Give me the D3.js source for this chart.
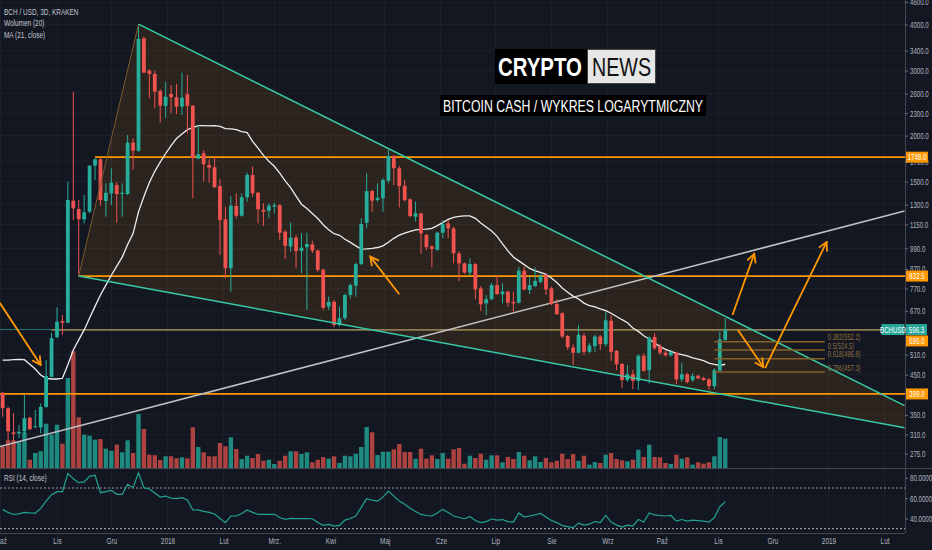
<!DOCTYPE html>
<html>
<head>
<meta charset="utf-8">
<script src="https://cdn.jsdelivr.net/npm/d3@7"></script>
<style>
  body { margin: 0; background: #131722; }
  svg { display: block; }
</style>
</head>
<body>
<div id="chart"></div>
<script>
// BCH/USD 3D bars: [open, high, low, close]
const firstBar = "2017-10-02";
const barDays = 3;
const ohlc = [
  [402,404,346,365],[365,368,296,316],[314,354,296,311],[312,329,303,315],[316,396,309,343],
  [344,346,319,320],[325,361,323,326],[324,376,312,368],[368,493,366,446],[444,584,442,565],
  [569,685,565,626],[629,653,577,622],[622,1500,620,1338],[1332,2630,1181,1270],[1265,1338,833,1186],
  [1186,1380,1157,1239],[1244,1665,1231,1658],[1658,1737,1516,1725],[1725,1737,1291,1338],[1330,1485,1206,1400],
  [1395,1631,1297,1491],[1469,1500,1161,1389],[1389,1485,1206,1400],[1389,2007,1380,1914],[1914,1966,1614,1820],
  [1820,4010,1809,3654],[3671,3708,2951,2962],[2999,3025,2524,2938],[2938,2999,2372,2630],[2642,2670,2168,2411],
  [2406,2799,2232,2549],[2593,2742,2303,2540],[2540,2759,2288,2396],[2396,2962,2274,2534],[2588,2920,2029,2406],
  [2411,2420,1352,1737],[1732,2137,1725,1780],[1791,1828,1500,1673],[1665,1725,1491,1638],[1642,1754,1440,1449],
  [1460,1523,950,1181],[1186,1284,821,874],[874,1372,755,1291],[1289,1395,1194,1213],[1213,1395,1206,1361],
  [1361,1587,1324,1564],[1564,1648,1366,1395],[1400,1409,1157,1263],[1259,1311,1138,1244],[1252,1311,1194,1291],
  [1284,1316,1231,1295],[1295,1305,1043,1091],[1098,1110,925,1005],[1001,1164,970,1058],[1058,1076,874,974],
  [974,1089,847,994],[997,1091,674,1017],[1015,1038,960,976],[976,984,856,865],[865,874,674,683],
  [688,732,674,709],[709,717,605,614],[614,688,607,640],[640,747,633,740],[740,796,724,787],
  [784,905,732,897],[897,1194,892,1152],[1161,1581,1121,1415],[1415,1424,1244,1332],[1338,1485,1324,1357],
  [1352,1532,1244,1516],[1509,1828,1485,1761],[1761,1772,1469,1631],[1631,1655,1278,1460],[1462,1516,1324,1338],
  [1344,1352,1201,1211],[1206,1324,1169,1231],[1231,1236,956,1087],[1076,1083,980,997],[1001,1011,879,986],
  [980,1098,976,1091],[1091,1181,1054,1152],[1157,1181,1054,1121],[1121,1133,901,960],[958,970,807,901],
  [901,905,844,851],[851,930,833,897],[897,905,720,766],[771,782,670,698],[702,740,653,721],
  [720,798,717,787],[787,833,740,744],[743,796,702,755],[755,760,688,705],[709,755,667,702],
  [705,883,702,861],[861,883,760,766],[763,833,744,787],[782,879,776,808],[803,844,796,833],
  [838,844,740,766],[771,779,695,699],[699,720,653,657],[660,664,565,571],[573,577,525,534],
  [533,544,478,516],[516,614,514,577],[574,583,509,519],[519,548,514,540],[538,577,519,571],
  [571,577,525,544],[544,667,536,632],[630,653,491,519],[522,525,463,480],[481,485,413,435],
  [435,478,430,451],[451,463,411,433],[433,512,409,506],[506,514,458,461],[463,571,426,567],
  [569,583,525,531],[536,545,509,516],[516,523,504,508],[508,525,504,518],[516,519,424,437],
  [437,485,430,451],[451,456,426,430],[435,454,430,446],[447,449,437,440],[441,444,433,435],
  [437,440,409,419],[419,468,411,463],[461,589,458,561],[559,640,556,596.3]
];

// volume per bar (thousand BCH)
const volumes = [
  216,276,276,257,357,83,150,167,443,333,
  433,243,900,1167,507,333,323,283,290,193,
  173,233,157,277,150,540,390,133,128,80,
  117,117,97,107,97,407,210,157,117,117,
  250,217,307,190,90,123,100,140,73,83,
  40,73,123,167,167,140,157,57,83,110,
  93,117,50,123,117,143,210,410,357,130,
  163,163,187,240,160,160,93,193,93,127,
  90,150,93,187,200,43,123,100,143,83,
  127,127,57,110,90,160,123,77,117,60,
  100,57,73,143,90,140,73,123,33,60,
  50,133,150,90,77,67,83,183,110,233,
  110,107,50,40,133,93,107,33,57,43,
  57,117,310,293
];

// RSI(14, close) per bar
const rsiValues = [
  49,46,44,44.5,46,45.5,45.3,50,57,63.5,
  66.4,66.4,84.4,79,75.2,76,81.5,82.5,65.4,66.5,
  67.7,63.8,63.8,73.6,70.3,85,70.3,69,65,61.1,
  62.1,60,59.5,60.5,58.2,48.4,48.5,47,46,44.5,
  40,35.9,42.5,42.5,45,48.4,46,44,44,44,
  44.1,41,39.2,40.2,40,40,40,39.8,36,33.3,
  34.3,32.6,33.3,38.5,40,42.5,51,59.5,58,57.2,
  61,67,62,57.2,54,50,47,44,43,42.5,
  45.5,49,46,42.5,41,39.8,42,38,36,37,
  39.5,38.5,39,37,36.5,45.5,41.5,42.5,43.5,45,
  41.5,38,36,33,32,31,35.5,33.5,34.5,37,
  36,43,36.5,33.5,31.5,33.5,32.5,39,36.5,45.5,
  43.5,43,42.5,43,37.5,39,37.5,38.5,38,37.5,
  36.5,41,51.5,56.5
];

// MA(21) for the first bars, whose history is off the left edge
const maLength = 21;
const maHead = [493,493,494,495,494,480,466,449,440,438,438,440,479,525,559,595,641,689,740,787];

const priceTicks = [4600,4000,3400,3000,2600,2300,2000,1700,1500,1300,1150,990,870,770,670,510,450,350,310,275];
const rsiTicks = [80, 60, 40];
const rsiBands = [70, 30];
const monthTicks = ["2017-10-01","2017-11-01","2017-12-01","2018-01-01","2018-02-01","2018-03-01","2018-04-01",
  "2018-05-01","2018-06-01","2018-07-01","2018-08-01","2018-09-01","2018-10-01","2018-11-01","2018-12-01",
  "2019-01-01","2019-02-01"];
const monthLabels = ["Paź","Lis","Gru","2018","Lut","Mrz.","Kwi","Maj","Cze","Lip","Sie","Wrz","Paź","Lis","Gru","2019","Lut"];

// drawings
const levelPrices = [1748, 832.5, 595, 399];
const levelStarts = ["2017-11-22", "2017-11-13", "2017-10-29", "2017-09-20"];
const fibRatios = ["0.382", "0.5", "0.618", "0.786"];
const fibPrices = [552.2, 524.5, 496.8, 457.3];
const fibSpan = ["2018-10-30", "2018-12-30"];
const wedgeUpper = [["2017-12-16", 4010], ["2019-02-12", 371]];
const wedgeLower = [["2017-11-13", 833], ["2019-02-12", 323]];
const supportLine = [["2017-09-30", 287], ["2019-02-12", 1249]];
const arrows = [
  [["2017-09-30", 709], ["2017-10-23", 478]],
  [["2018-05-09", 743], ["2018-04-23", 940]],
  [["2018-11-09", 653], ["2018-11-21", 956]],
  [["2018-11-12", 595], ["2018-11-26", 472]],
  [["2018-11-27", 469], ["2018-12-31", 1030]]
];
const lastPrice = 596.3;

// ---- layout
const W = 932, H = 550;
const plotRight = 905, mainBottom = 468, rsiTop = 469, rsiBottom = 533;
const upColor = "#27ad9b", downColor = "#ef5350";
const volUp = "#1f8a80", volDown = "#ac4340";
const orange = "#ff9800", teal = "#38c9a5";
const squeeze = 0.68; // the chart's text is drawn narrow

const parse = d3.utcParse("%Y-%m-%d");
const dates = ohlc.map((d, i) => d3.utcDay.offset(parse(firstBar), i * barDays));
const closes = ohlc.map(d => d[3]);
const ma = closes.map((c, i) => i < maLength - 1 ? maHead[i] : d3.mean(closes.slice(i - maLength + 1, i + 1)));

const x = d3.scaleUtc().domain([parse("2017-11-01"), parse("2018-11-01")]).range([57, 718]);
const y = d3.scaleLog().domain([275, 4000]).range([453.6, 24.5]);
const yVol = d3.scaleLinear().domain([0, 1200]).range([mainBottom, mainBottom - 120]);
const yRsi = d3.scaleLinear().domain([30, 70]).range([528.7, 488]);
const pt = d => [x(parse(d[0])), y(d[1])];

const svg = d3.select("#chart").append("svg")
  .attr("width", W).attr("height", H)
  .attr("font-family", "'Liberation Sans', Arial, sans-serif")
  .style("background", "#131722");

const defs = svg.append("defs");
defs.append("clipPath").attr("id", "clipMain")
  .append("rect").attr("width", plotRight).attr("height", mainBottom);
defs.append("clipPath").attr("id", "clipRsi")
  .append("rect").attr("y", rsiTop).attr("width", plotRight).attr("height", rsiBottom - rsiTop);
defs.append("marker").attr("id", "head")
  .attr("viewBox", "0 0 12 12").attr("refX", 10.5).attr("refY", 6)
  .attr("markerUnits", "userSpaceOnUse").attr("markerWidth", 12).attr("markerHeight", 12)
  .attr("orient", "auto")
  .append("path").attr("d", "M2,1.5L10.5,6L2,10.5")
  .attr("fill", "none").attr("stroke", orange).attr("stroke-width", 1.8);

// grid
const grid = svg.append("g").attr("stroke", "#1b1f2b").attr("shape-rendering", "crispEdges");
grid.selectAll("line.v").data(monthTicks).join("line").attr("class", "v")
  .attr("x1", d => x(parse(d))).attr("x2", d => x(parse(d)))
  .attr("y1", 0).attr("y2", rsiBottom);
grid.selectAll("line.h").data(priceTicks).join("line").attr("class", "h")
  .attr("x1", 0).attr("x2", plotRight)
  .attr("y1", d => y(d)).attr("y2", d => y(d));

const main = svg.append("g").attr("clip-path", "url(#clipMain)");

// wedge area
main.append("path")
  .attr("d", d3.line()([pt(wedgeLower[0]), pt(wedgeUpper[0]), pt(wedgeUpper[1]), pt(wedgeLower[1])]) + "Z")
  .attr("fill", "rgba(255,152,0,0.1)");

// volume
main.append("g").selectAll("rect").data(volumes).join("rect")
  .attr("x", (d, i) => x(dates[i]) - 2.2)
  .attr("width", 4.4)
  .attr("y", d => yVol(d))
  .attr("height", d => mainBottom - yVol(d))
  .attr("fill", (d, i) => ohlc[i][3] >= ohlc[i][0] ? volUp : volDown);

// horizontal levels + current price line
main.append("line")
  .attr("x1", 0).attr("x2", plotRight).attr("y1", y(lastPrice)).attr("y2", y(lastPrice))
  .attr("stroke", "#26a69a").attr("stroke-width", 1).attr("opacity", 0.7);
levelPrices.forEach((p, i) => {
  main.append("line")
    .attr("x1", x(parse(levelStarts[i]))).attr("x2", plotRight)
    .attr("y1", y(p)).attr("y2", y(p))
    .attr("stroke", i === 2 ? "#8f7d4f" : orange)
    .attr("stroke-width", 1.7);
});

// support diagonal
main.append("line")
  .attr("x1", pt(supportLine[0])[0]).attr("y1", pt(supportLine[0])[1])
  .attr("x2", pt(supportLine[1])[0]).attr("y2", pt(supportLine[1])[1])
  .attr("stroke", "#bfc0c2").attr("stroke-width", 1.6);

// MA(21)
main.append("path").datum(ma)
  .attr("d", d3.line().x((d, i) => x(dates[i])).y(d => y(d)))
  .attr("fill", "none").attr("stroke", "#ededed").attr("stroke-width", 1.3);

// candles
const candle = main.append("g").selectAll("g").data(ohlc).join("g")
  .attr("transform", (d, i) => `translate(${x(dates[i])},0)`);
candle.append("line")
  .attr("y1", d => y(d[1])).attr("y2", d => y(d[2]))
  .attr("stroke", d => d[3] >= d[0] ? upColor : downColor).attr("stroke-width", 1);
candle.append("rect")
  .attr("x", -1.9).attr("width", 3.8)
  .attr("y", d => y(Math.max(d[0], d[3])))
  .attr("height", d => Math.max(1, Math.abs(y(d[0]) - y(d[3]))))
  .attr("fill", d => d[3] >= d[0] ? upColor : downColor);

// wedge borders
main.append("line")
  .attr("x1", pt(wedgeLower[0])[0]).attr("y1", pt(wedgeLower[0])[1])
  .attr("x2", pt(wedgeUpper[0])[0]).attr("y2", pt(wedgeUpper[0])[1])
  .attr("stroke", "#7a5a2c").attr("stroke-width", 1);
[wedgeUpper, wedgeLower].forEach(l => {
  main.append("line")
    .attr("x1", pt(l[0])[0]).attr("y1", pt(l[0])[1])
    .attr("x2", pt(l[1])[0]).attr("y2", pt(l[1])[1])
    .attr("stroke", teal).attr("stroke-width", 1.5);
});

// fibonacci levels
const fx0 = x(parse(fibSpan[0])), fx1 = x(parse(fibSpan[1]));
fibPrices.forEach((p, i) => {
  main.append("line").attr("x1", fx0).attr("x2", fx1).attr("y1", y(p)).attr("y2", y(p))
    .attr("stroke", "#86622a").attr("stroke-width", 1.5);
  main.append("text").attr("class", "cond")
    .attr("x", fx1 + 3).attr("y", y(p) - 1.5)
    .attr("font-size", 8.5).attr("fill", "#8c6d3f")
    .text(`${fibRatios[i]}(${p.toFixed(1)})`);
});

// arrows
arrows.forEach(a => {
  main.append("line")
    .attr("x1", pt(a[0])[0]).attr("y1", pt(a[0])[1])
    .attr("x2", pt(a[1])[0]).attr("y2", pt(a[1])[1])
    .attr("stroke", orange).attr("stroke-width", 1.8)
    .attr("marker-end", "url(#head)");
});

// RSI pane
const rsiG = svg.append("g").attr("clip-path", "url(#clipRsi)");
rsiBands.forEach(v => {
  rsiG.append("line").attr("x1", 0).attr("x2", plotRight).attr("y1", yRsi(v)).attr("y2", yRsi(v))
    .attr("stroke", "#9598a1").attr("stroke-width", 1.2).attr("stroke-dasharray", "2,2");
});
rsiG.append("path").datum(rsiValues)
  .attr("d", d3.line().x((d, i) => x(dates[i])).y(d => yRsi(d)))
  .attr("fill", "none").attr("stroke", "#22a392").attr("stroke-width", 1.2);

// separators
const sep = svg.append("g").attr("stroke", "#434651").attr("shape-rendering", "crispEdges");
sep.append("line").attr("x1", 0).attr("x2", W).attr("y1", mainBottom + 0.5).attr("y2", mainBottom + 0.5).attr("stroke-width", 1.5);
sep.append("line").attr("x1", 0).attr("x2", plotRight).attr("y1", rsiBottom + 0.5).attr("y2", rsiBottom + 0.5);
sep.append("line").attr("x1", plotRight + 0.5).attr("x2", plotRight + 0.5).attr("y1", 0).attr("y2", rsiBottom);

// price axis
const yAxis = svg.append("g").attr("transform", `translate(${plotRight},0)`)
  .call(d3.axisRight(y).tickValues(priceTicks).tickFormat(d3.format(".1f")).tickSize(3).tickPadding(2));
yAxis.select(".domain").remove();
yAxis.selectAll("line").attr("stroke", "#6a6d78");
yAxis.selectAll("text").attr("class", "cond").attr("fill", "#b2b5be").attr("font-size", 9);

const rAxis = svg.append("g").attr("transform", `translate(${plotRight},0)`)
  .call(d3.axisRight(yRsi).tickValues(rsiTicks).tickFormat(d3.format(".4f")).tickSize(3).tickPadding(2));
rAxis.select(".domain").remove();
rAxis.selectAll("line").attr("stroke", "#6a6d78");
rAxis.selectAll("text").attr("class", "cond").attr("fill", "#b2b5be").attr("font-size", 9);

// time axis
const xAxis = svg.append("g").attr("transform", `translate(0,${rsiBottom})`)
  .call(d3.axisBottom(x).tickValues(monthTicks.map(parse)).tickFormat((d, i) => monthLabels[i]).tickSize(0).tickPadding(4));
xAxis.select(".domain").remove();
xAxis.selectAll("text").attr("class", "cond").attr("fill", "#b2b5be").attr("font-size", 9.5);

// axis boxes
function axisBox(left, cy, width, fill, label) {
  const g = svg.append("g").attr("transform", `translate(${left},${cy})`);
  g.append("rect").attr("y", -5.5).attr("width", width).attr("height", 11).attr("fill", fill);
  g.append("text").attr("class", "cond").attr("x", width / 2).attr("dy", "0.35em")
    .attr("text-anchor", "middle").attr("font-size", 9).attr("fill", "#fff").text(label);
}
levelPrices.forEach((p, i) => {
  if (i !== 2) axisBox(plotRight + 1, y(p), 22, orange, p.toFixed(1));
});
axisBox(plotRight + 1, y(levelPrices[2]) + 11, 22, orange, levelPrices[2].toFixed(1));
axisBox(plotRight + 1, y(lastPrice), 21, "#26a69a", lastPrice.toFixed(1));
axisBox(plotRight - 23.5, y(lastPrice), 23, "#26a69a", "BCHUSD");

// legends
const legend = ["BCH / USD, 3D, KRAKEN", "Wolumen (20)", "MA (21, close)"];
legend.forEach((t, i) => {
  svg.append("text").attr("class", "cond")
    .attr("x", 4).attr("y", 15 + i * 11.3)
    .attr("font-size", 9.5).attr("fill", "#c3c6ce").text(t);
});
svg.append("text").attr("class", "cond")
  .attr("x", 4).attr("y", 481)
  .attr("font-size", 9.5).attr("fill", "#c3c6ce").text("RSI (14, close)");

// title boxes
svg.append("rect").attr("x", 495).attr("y", 49).attr("width", 92).attr("height", 35).attr("fill", "#000");
svg.append("rect").attr("x", 587.5).attr("y", 49.5).attr("width", 68).attr("height", 34)
  .attr("fill", "#e6e6e6").attr("stroke", "#444");
svg.append("text").attr("x", 498).attr("y", 76).attr("font-size", 26).attr("font-weight", "bold")
  .attr("fill", "#fff").attr("textLength", 84).attr("lengthAdjust", "spacingAndGlyphs").text("CRYPTO");
svg.append("text").attr("x", 592).attr("y", 76).attr("font-size", 26)
  .attr("fill", "#111").attr("textLength", 59).attr("lengthAdjust", "spacingAndGlyphs").text("NEWS");
svg.append("rect").attr("x", 440).attr("y", 95).attr("width", 266).attr("height", 21).attr("fill", "#000");
svg.append("text").attr("x", 443).attr("y", 111.5).attr("font-size", 16)
  .attr("fill", "#fff").attr("textLength", 260).attr("lengthAdjust", "spacingAndGlyphs")
  .text("BITCOIN CASH / WYKRES LOGARYTMICZNY");

// narrow the UI text around its anchor point
svg.selectAll("text.cond").each(function () {
  const t = d3.select(this);
  const x0 = +t.attr("x") || 0;
  t.attr("transform", `translate(${x0 * (1 - squeeze)},0) scale(${squeeze},1)`);
});
</script>
</body>
</html>
